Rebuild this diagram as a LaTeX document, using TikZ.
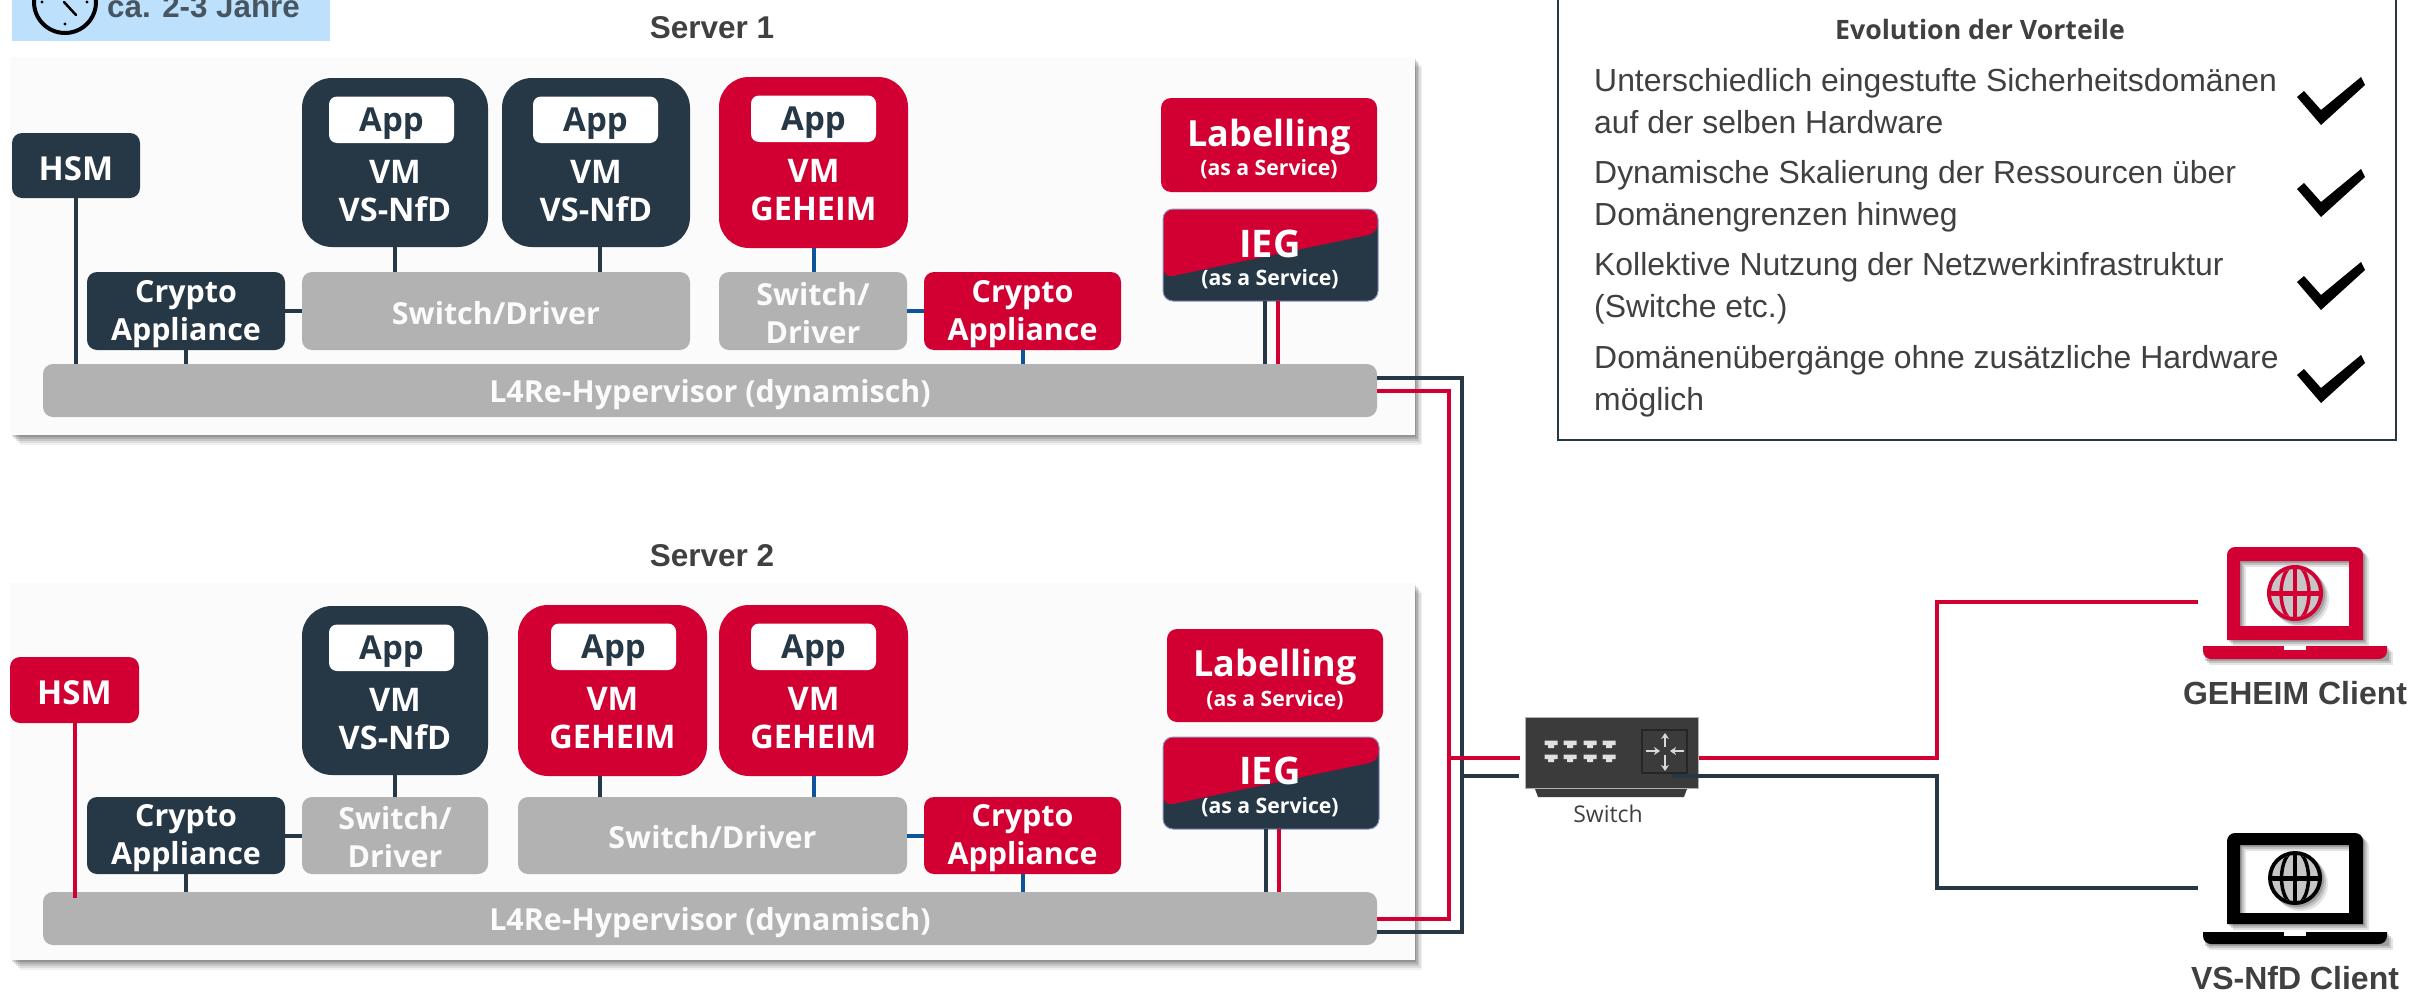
\documentclass[tikz,border=0pt]{standalone}
\usepackage{fontspec}
\setmainfont{Liberation Sans}
\newfontfamily\boxf{Open Sans}
\usetikzlibrary{arrows.meta,calc}
\definecolor{redc}{HTML}{D20032}
\definecolor{darkc}{HTML}{263745}
\definecolor{greyc}{HTML}{B2B2B2}
\definecolor{bluec}{HTML}{0F5499}
\definecolor{txtc}{HTML}{404040}
\definecolor{panelc}{HTML}{FBFBFB}
\definecolor{skyc}{HTML}{BDE0FD}
\definecolor{swc}{HTML}{3B3B3B}
\tikzset{
  box/.style={rounded corners=10pt,inner sep=0pt,outer sep=0pt,align=center,text=white,
    font=\boxf\bfseries\fontsize{30.4}{38}\selectfont},
  largetxt/.style={font=\boxf\bfseries\fontsize{33}{38}\selectfont},
  darkbox/.style={box,fill=darkc},
  redbox/.style={box,fill=redc},
  greybox/.style={box,fill=greyc,text=white!95!greyc},
  vmdark/.style={darkbox,rounded corners=30pt},
  vmred/.style={redbox,rounded corners=30pt},
  appbox/.style={box,fill=white,text=darkc,rounded corners=8pt,largetxt},
  vmtext/.style={inner sep=0pt,align=center,text=white,font=\boxf\bfseries\fontsize{32.5}{38}\selectfont},
  panel/.style={inner sep=0pt,outer sep=0pt,fill=panelc},
  title/.style={inner sep=0pt,text=txtc,font=\bfseries\fontsize{31.5}{31.5}\selectfont},
  svc/.style={inner sep=0pt,text=white,font=\boxf\bfseries\fontsize{21.2}{21.2}\selectfont},
  big/.style={inner sep=0pt,text=white,font=\boxf\bfseries\fontsize{36}{36}\selectfont},
  iegtxt/.style={inner sep=0pt,text=white,font=\boxf\bfseries\fontsize{38}{38}\selectfont},
  wdark/.style={draw=darkc,line width=4pt},
  wred/.style={draw=redc,line width=4pt},
  wblue/.style={draw=bluec,line width=4pt},
  iegbox/.style={box,fill=darkc,draw=blue!30!darkc!50!white,line width=1pt,
    path picture={\fill[redc] ([yshift=-23pt]path picture bounding box.west) -- ([yshift=22pt]path picture bounding box.east)
      -- (path picture bounding box.north east) -- (path picture bounding box.north west) -- cycle;}},
  listtxt/.style={inner sep=0pt,anchor=base west,text=txtc,font=\fontsize{31.9}{31.9}\selectfont},
  client/.style={inner sep=0pt,text=txtc,font=\bfseries\fontsize{32}{32}\selectfont},
}
\newcommand\bx[6]{%
  \pgfmathsetmacro\cxv{(#2+#4)/2}\pgfmathsetmacro\cyv{(#3+#5)/2}%
  \pgfmathsetmacro\wv{#4-#2}\pgfmathsetmacro\hv{#5-#3}%
  \node[#6,minimum width=\wv pt,minimum height=\hv pt] (#1) at (\cxv,\cyv) {};}
% box with its text: the text sits a little below the geometric centre
\newcommand\bxt[8][3pt]{%
  \bx{#2}{#3}{#4}{#5}{#6}{#7}%
  \node[#7,fill=none,draw=none,rounded corners=0pt] (#2t) at ([yshift=-#1]#2.center) {#8};}
\newcommand\vmb[8]{% name x0 y0 x1 y1 style label appx0
  \bx{#1}{#2}{#3}{#4}{#5}{#6}
  \pgfmathsetmacro\ax{#8+125}\pgfmathsetmacro\ay{#3+18.5}\pgfmathsetmacro\ayy{#3+65}%
  \bxt[4pt]{#1a}{#8}{\ay}{\ax}{\ayy}{appbox}{App}
  \pgfmathsetmacro\tx{(#2+#4)/2}\pgfmathsetmacro\ty{#3+113.5}%
  \node[vmtext] (#1t) at (\tx,\ty) {VM\\#7};}
\newcommand\panelshadow[4]{%
  \foreach \d/\o in {10/.06,8/.08,6/.10,4/.12,2/.14}{\fill[black,opacity=\o] (#1+\d,#2+\d) rectangle (#3+\d*.7,#4+\d);}}
\newcommand\laptop[9]{% col top bot itop ibot btop bbot gy gr
  \foreach \sx/\so in {6/.10,4/.14,2/.18}{
    \begin{scope}[shift={(\sx,\sx)},opacity=\so]
      \fill[black,even odd rule] (2227,#3) [rounded corners=8pt] -- (2227,#2) -- (2363,#2) [sharp corners] -- (2363,#3) -- cycle (2240,#4) rectangle (2349,#5);
      \fill[black] (2203,#6) rectangle (2387,#7);
      \fill[black] (2295,#8) circle[radius=#9];
    \end{scope}}
  \fill[#1,even odd rule] (2227,#3) [rounded corners=8pt] -- (2227,#2) -- (2363,#2) [sharp corners] -- (2363,#3) -- cycle (2240,#4) rectangle (2349,#5);
  \fill[#1] (2203,#6) [rounded corners=8pt] -- (2203,#7) -- (2387,#7) [sharp corners] -- (2387,#6) -- cycle;
  \fill[white] (2284,#6) rectangle (2306,#6+4);
  \fill[#1] (2295,#8) circle[radius=#9];
  \begin{scope}
    \clip (2295,#8) circle[radius=#9-4];
    \fill[gray!45] (2295,#8) circle[radius=#9];
    \draw[#1,line width=3.5pt] (2295,#8) circle[x radius=.5*#9,y radius=#9];
    \draw[#1,line width=3.5pt] (2295,#8-#9) -- (2295,#8+#9);
    \draw[#1,line width=5pt] (2295-#9,#8) -- (2295+#9,#8);
  \end{scope}}
\newcommand\chk[1]{\fill[black,shift={(0,#1)}] (2297,97) -- (2304,91) -- (2321,110) -- (2361,77) -- (2365,85) -- (2321,125) -- cycle;}
\begin{document}
\begin{tikzpicture}[x=1pt,y=-1pt]
\useasboundingbox (0,0) rectangle (2420,1001);
\fill[white] (0,0) rectangle (2420,1001);
% duration tag
\bx{tag}{12}{-5}{330}{41}{fill=skyc,inner sep=0pt}
\draw[black,line width=4pt] (65,2) circle[radius=31];
\draw[black,line width=2.5pt,line cap=round] (64,2) -- (76,15);
\foreach \p in {(65,24),(42,2),(87,2)}{\fill[black] \p circle[radius=1.6];}
\node[inner sep=0pt,anchor=base west,text=darkc!85!white,font=\bfseries\fontsize{31.3}{31.3}\selectfont] (tagt) at (107,17) {ca. 2-3 Jahre};
% titles
\node[title] (s1t) at (712,28) {Server 1};
\node[title] (s2t) at (712,556) {Server 2};
% panels
\panelshadow{10}{57}{1415}{435}
\bx{p1}{10}{57}{1415}{435}{panel}
\panelshadow{10}{583}{1415}{960}
\bx{p2}{10}{583}{1415}{960}{panel}
% server 1
\bxt{hsmA}{12}{133}{140}{198}{darkbox,largetxt}{HSM}
\vmb{vmA}{302}{78}{488}{247}{vmdark}{VS-NfD}{329}
\vmb{vmB}{502}{78}{690}{247}{vmdark}{VS-NfD}{533}
\vmb{vmC}{719}{77}{908}{248}{vmred}{GEHEIM}{751}
\bxt[2pt]{swA}{302}{272}{690}{350}{greybox}{Switch/Driver}
\bxt[2pt]{swB}{719}{272}{907}{350}{greybox}{Switch/\\Driver}
\bxt{caA}{87}{272}{285}{350}{darkbox}{Crypto\\Appliance}
\bxt{caB}{924}{272}{1121}{350}{redbox}{Crypto\\Appliance}
\bxt[4pt]{hvA}{43}{364}{1377}{417}{greybox}{L4Re-Hypervisor (dynamisch)}
\bx{labA}{1161}{98}{1377}{192}{redbox}
\node[big] (labAt) at (1269,137) {Labelling};
\node[svc] (labAs) at (1269,169.5) {(as a Service)};
\bx{iegA}{1163}{209}{1378}{301}{iegbox}
\node[iegtxt] (iegAt) at (1270,244) {IEG};
\node[svc] (iegAs) at (1270,279) {(as a Service)};
% server 2
\bxt{hsmB}{10}{657}{139}{723}{redbox,largetxt}{HSM}
\vmb{vmD}{302}{606}{488}{775}{vmdark}{VS-NfD}{329}
\vmb{vmE}{518}{605}{707}{776}{vmred}{GEHEIM}{551}
\vmb{vmF}{719}{605}{908}{776}{vmred}{GEHEIM}{751}
\bxt[2pt]{swC}{302}{797}{488}{874}{greybox}{Switch/\\Driver}
\bxt[2pt]{swD}{518}{797}{907}{874}{greybox}{Switch/Driver}
\bxt{caC}{87}{797}{285}{874}{darkbox}{Crypto\\Appliance}
\bxt{caD}{924}{797}{1121}{874}{redbox}{Crypto\\Appliance}
\bxt[4pt]{hvB}{43}{892}{1377}{945}{greybox}{L4Re-Hypervisor (dynamisch)}
\bx{labB}{1167}{629}{1383}{722}{redbox}
\node[big] (labBt) at (1275,667) {Labelling};
\node[svc] (labBs) at (1275,700) {(as a Service)};
\bx{iegB}{1163}{737}{1379}{829}{iegbox}
\node[iegtxt] (iegBt) at (1270,771) {IEG};
\node[svc] (iegBs) at (1270,807) {(as a Service)};
% connectors server 1
\draw[wdark] (hsmA.south) -- (hsmA.south |- hvA.north);
\draw[wdark] (caA.south) -- (caA.south |- hvA.north);
\draw[wdark] (caA.east) -- (swA.west);
\draw[wdark] (vmA.south) -- (vmA.south |- swA.north);
\draw[wdark] ([xshift=4pt]vmB.south) -- ([xshift=4pt]vmB.south |- swA.north);
\draw[wblue] (vmC.south) -- (vmC.south |- swB.north);
\draw[wblue] (swB.east) -- (caB.west);
\draw[wblue] (caB.south) -- (caB.south |- hvA.north);
\draw[wdark] ([xshift=-5.5pt]iegA.south) -- ([xshift=-5.5pt]iegA.south |- hvA.north);
\draw[wred] ([xshift=7.5pt]iegA.south) -- ([xshift=7.5pt]iegA.south |- hvA.north);
% connectors server 2
\coordinate (hsmBend) at (75,898);
\draw[wred] ([xshift=.5pt]hsmB.south) -- (hsmBend);
\draw[wdark] (caC.south) -- (caC.south |- hvB.north);
\draw[wdark] (caC.east) -- (swC.west);
\draw[wdark] (vmD.south) -- (vmD.south |- swC.north);
\draw[wdark] ([xshift=-12.5pt]vmE.south) -- ([xshift=-12.5pt]vmE.south |- swD.north);
\draw[wblue] (vmF.south) -- (vmF.south |- swD.north);
\draw[wblue] (swD.east) -- (caD.west);
\draw[wblue] (caD.south) -- (caD.south |- hvB.north);
\draw[wdark] ([xshift=-5.5pt]iegB.south) -- ([xshift=-5.5pt]iegB.south |- hvB.north);
\draw[wred] ([xshift=7.5pt]iegB.south) -- ([xshift=7.5pt]iegB.south |- hvB.north);
% switch
\fill[swc] (1535,789) -- (1687,789) -- (1684,797) -- (1538,797) -- cycle;
\bx{sw}{1525}{717}{1698}{788}{fill=swc,draw=gray!60,line width=1pt,inner sep=0pt}
\foreach \x in {1551,1570,1590,1609}{\foreach \y in {745,759}{
  \fill[white!88!black] (\x-6.5,\y-4.5) -- (\x+6.5,\y-4.5) -- (\x+6.5,\y) -- (\x+3,\y) -- (\x+3,\y+3) -- (\x-3,\y+3) -- (\x-3,\y) -- (\x-6.5,\y) -- cycle;}}
\draw[black!85,fill=swc,line width=1.2pt] (1642,730) rectangle (1687,773);
\foreach \a/\b in {{(1665,747)/(1665,733)},{(1665,755)/(1665,771)},{(1646,751)/(1660,751)},{(1684,751)/(1670,751)}}{
  \draw[white!85!black,line width=2pt,-{Stealth[length=6pt,width=8pt]}] \a -- \b;}
\node[inner sep=0pt,text=txtc,font=\boxf\fontsize{23}{23}\selectfont] (swl) at (1608,814) {Switch};
% network lines
\coordinate (rIn) at (1520,758);
\coordinate (dIn) at (1519,776);
\coordinate (rBus) at (1449,758);
\coordinate (dBus) at (1462,776);
\coordinate (rOut) at (1699,758);
\coordinate (dOut) at (1672,776);
\coordinate (lapR) at (2198,602);
\coordinate (lapD) at (2198,888);
\draw[wred] (hvA.east) -| (rBus);
\draw[wred] (hvB.east) -| (rBus);
\draw[wdark] ([yshift=13pt]hvA.east) -| (dBus);
\draw[wdark] ([yshift=-13pt]hvB.east) -| (dBus);
\draw[wred] (rBus) -- (rIn);
\draw[wdark] (dBus) -- (dIn);
\draw[wred] (rOut) -- (1937,758) |- (lapR);
\draw[wdark] (dOut) -- (1937,776) |- (lapD);
% clients
\laptop{redc}{547}{640}{561}{626}{646}{659}{593}{28}
\laptop{black}{833}{924}{845}{913}{932}{944}{878}{27}
\node[client] (cR) at (2295,693) {GEHEIM Client};
\node[client] (cD) at (2295,978) {VS-NfD Client};
% benefits box
\draw[draw=darkc,line width=2.5pt] (1558,-10) rectangle (2396,440);
\node[inner sep=0pt,text=txtc,font=\boxf\bfseries\fontsize{26.7}{26.7}\selectfont] (evt) at (1980,29) {Evolution der Vorteile};
\node[listtxt] (l1) at (1594,91) {Unterschiedlich eingestufte Sicherheitsdomänen};
\node[listtxt] (l2) at (1594,133) {auf der selben Hardware};
\node[listtxt] (l3) at (1594,183) {Dynamische Skalierung der Ressourcen über};
\node[listtxt] (l4) at (1594,225) {Domänengrenzen hinweg};
\node[listtxt] (l5) at (1594,275) {Kollektive Nutzung der Netzwerkinfrastruktur};
\node[listtxt] (l6) at (1594,317) {(Switche etc.)};
\node[listtxt] (l7) at (1594,368) {Domänenübergänge ohne zusätzliche Hardware};
\node[listtxt] (l8) at (1594,410) {möglich};
\chk{0}\chk{92}\chk{185}\chk{278}
\end{tikzpicture}
\end{document}
